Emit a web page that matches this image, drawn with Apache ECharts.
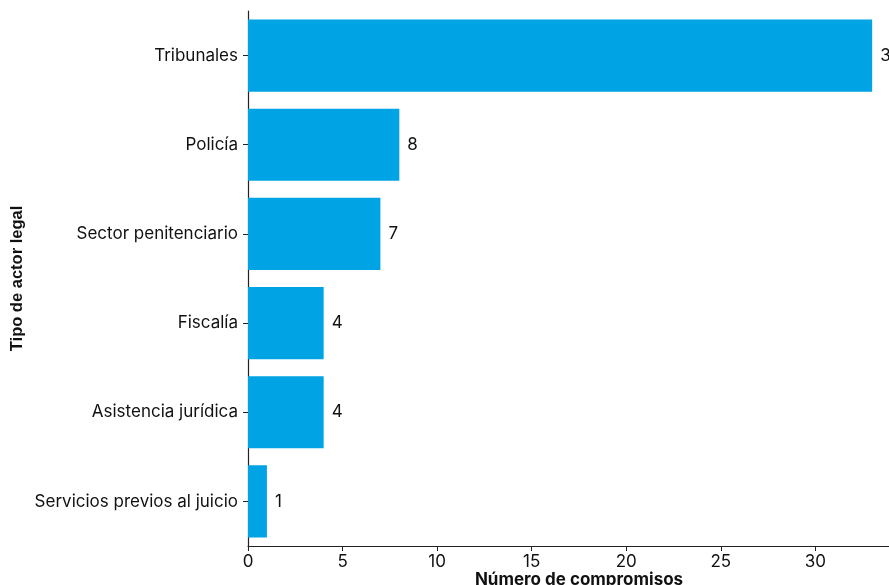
<!DOCTYPE html>
<html><head><meta charset="utf-8">
<script src="https://cdn.jsdelivr.net/npm/echarts@6/dist/echarts.min.js"></script>
<style>html,body{margin:0;padding:0;background:#fff}#c{width:889px;height:585px}</style>
</head><body><div id="c"></div>
<script>
const categories = ["Servicios previos al juicio","Asistencia jurídica","Fiscalía","Sector penitenciario","Policía","Tribunales"];
const values = [1,4,4,7,8,33];
const xTitle = "Número de compromisos";
const yTitle = "Tipo de actor legal";
const font = "Inter";
const chart = echarts.init(document.getElementById('c'));
chart.setOption({
  animation:false,
  grid:{left:248, top:11, height:535, width:662, outerBoundsMode:'none', containLabel:false},
  xAxis:{type:'value', min:0, max:35, interval:5,
    splitLine:{show:false},
    axisLine:{show:true, lineStyle:{color:'#222', width:1.2}},
    axisTick:{show:true, length:5, lineStyle:{color:'#222'}},
    axisLabel:{color:'#111', fontSize:17, fontFamily:font, margin:7},
    name:xTitle, nameLocation:'middle', nameGap:25, nameMoveOverlap:false,
    nameTextStyle:{color:'#111', fontSize:17, fontWeight:'bold', fontFamily:font}},
  yAxis:{type:'category', data:categories,
    axisLine:{show:true, lineStyle:{color:'#222', width:1.2}},
    axisTick:{show:true, alignWithLabel:true, length:5, lineStyle:{color:'#222'}},
    axisLabel:{color:'#111', fontSize:17, fontFamily:font, margin:10},
    name:yTitle, nameLocation:'middle', nameRotate:90, nameGap:222, nameMoveOverlap:false,
    nameTextStyle:{color:'#111', fontSize:16.5, fontWeight:'bold', fontFamily:'Liberation Sans'}},
  series:[{type:'bar', data:values, barCategoryGap:'19%',
    itemStyle:{color:'#00a3e4'},
    label:{show:true, position:'right', distance:8, color:'#111', fontSize:17, fontFamily:font}}]
});
</script></body></html>
